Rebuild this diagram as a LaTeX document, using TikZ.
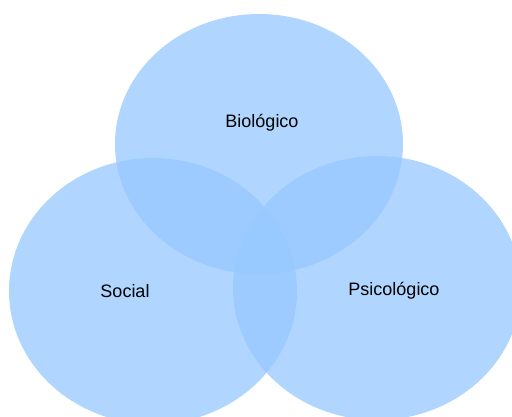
\documentclass[tikz,border=0pt]{standalone}
\usepackage{fontspec}
\setmainfont{Liberation Sans}
\definecolor{venn}{RGB}{150,200,255}
\begin{document}
\begin{tikzpicture}[x=1pt,y=-1pt,
  circ/.style={fill=venn,fill opacity=0.75},
  lbl/.style={anchor=base,inner sep=0pt,font=\fontsize{18}{20}\selectfont,text=black}]
\useasboundingbox (0,0) rectangle (512,416);
\begin{scope}
\clip (0,0) rectangle (512,416);
\fill[circ] (259,144) ellipse [x radius=144, y radius=130];
\fill[circ] (153,291) ellipse [x radius=144, y radius=133];
\fill[circ] (377,288) ellipse [x radius=144, y radius=132];
\end{scope}
\node[lbl] (bio) at (262,127) {Biológico};
\node[lbl] (soc) at (125,297) {Social};
\node[lbl] (psi) at (394,295) {Psicológico};
\end{tikzpicture}
\end{document}
